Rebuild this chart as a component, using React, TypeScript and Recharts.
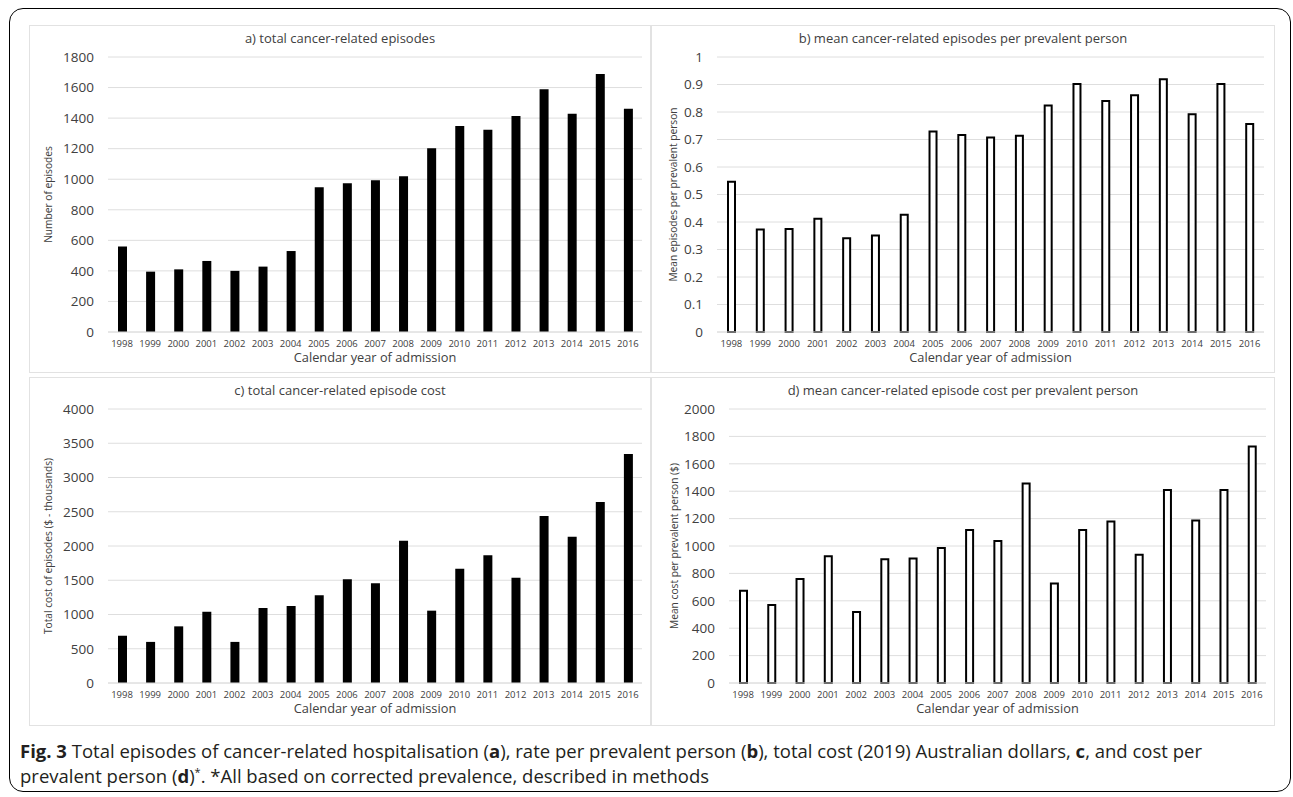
import React from 'react';
import { BarChart, Bar, XAxis, YAxis, CartesianGrid } from 'recharts';

const years = [
  '1998', '1999', '2000', '2001', '2002', '2003', '2004', '2005', '2006', '2007',
  '2008', '2009', '2010', '2011', '2012', '2013', '2014', '2015', '2016',
];

// a) total cancer-related episodes
const totalEpisodes = [560, 395, 410, 465, 400, 428, 530, 947, 973, 993, 1019, 1202, 1348, 1324, 1414, 1589, 1429, 1689, 1462];
// b) mean episodes per prevalent person
const episodesPerPerson = [0.546, 0.373, 0.375, 0.412, 0.341, 0.351, 0.426, 0.729, 0.716, 0.707, 0.714, 0.824, 0.902, 0.84, 0.861, 0.919, 0.792, 0.902, 0.756];
// c) total cost ($ thousands)
const totalCost = [690, 600, 827, 1040, 600, 1095, 1124, 1280, 1513, 1455, 2078, 1056, 1669, 1864, 1538, 2438, 2136, 2642, 3343];
// d) mean cost per prevalent person ($)
const costPerPerson = [674, 569, 759, 925, 518, 903, 908, 985, 1117, 1036, 1457, 727, 1117, 1178, 937, 1409, 1187, 1409, 1727];

const ticksA = [0, 200, 400, 600, 800, 1000, 1200, 1400, 1600, 1800];
const ticksB = [0, 0.1, 0.2, 0.3, 0.4, 0.5, 0.6, 0.7, 0.8, 0.9, 1];
const ticksC = [0, 500, 1000, 1500, 2000, 2500, 3000, 3500, 4000];
const ticksD = [0, 200, 400, 600, 800, 1000, 1200, 1400, 1600, 1800, 2000];

const FONT = '"Open Sans", sans-serif';
const TEXT = '#404040';

type PanelProps = {
  left: number;
  top: number;
  width: number;
  height: number;
  title: string;
  yTitle: string;
  values: number[];
  ticks: number[];
  filled: boolean;
  plotLeft: number;
  plotRight: number;
  plotBottom: number;
  yTitleX: number;
};

const Panel = (p: PanelProps) => {
  const data = years.map((year, i) => ({ year, value: p.values[i] }));
  const w = p.width - 2;
  const h = p.height - 2;
  const max = p.ticks[p.ticks.length - 1];

  return (
    <div
      style={{
        position: 'absolute',
        left: p.left,
        top: p.top,
        width: p.width,
        height: p.height,
        border: '1px solid #e2e2e2',
        boxSizing: 'border-box',
        background: '#fff',
      }}
    >
      <div
        style={{
          position: 'absolute',
          left: 0,
          right: 0,
          top: 3,
          textAlign: 'center',
          fontFamily: FONT,
          fontSize: 13,
          color: TEXT,
        }}
      >
        {p.title}
      </div>
      <BarChart
        width={w}
        height={h}
        data={data}
        margin={{ top: 31, right: w - p.plotRight, left: 0, bottom: 0 }}
        barCategoryGap={0}
      >
        <CartesianGrid vertical={false} stroke="#dedede" strokeWidth={1} />
        <XAxis
          dataKey="year"
          height={h - p.plotBottom}
          axisLine={{ stroke: '#dedede' }}
          tickLine={false}
          interval={0}
          tick={{ fill: TEXT, fontSize: 9.5, fontFamily: FONT }}
          label={{
            content: (props: any) => {
              const vb = props.viewBox || {};
              return (
                <text
                  x={vb.x + vb.width / 2}
                  y={vb.y + 25}
                  textAnchor="middle"
                  dominantBaseline="central"
                  fill={TEXT}
                  fontSize={12.8}
                  fontFamily={FONT}
                >
                  Calendar year of admission
                </text>
              );
            },
          }}
        />
        <YAxis
          width={p.plotLeft}
          domain={[0, max]}
          ticks={p.ticks}
          interval={0}
          axisLine={false}
          tickLine={false}
          tickMargin={8}
          tickFormatter={(v: number) => String(v)}
          tick={{ fill: TEXT, fontSize: 13.5, fontFamily: FONT }}
          label={{
            content: (props: any) => {
              const vb = props.viewBox || {};
              const cy = vb.y + vb.height / 2;
              return (
                <text
                  x={p.yTitleX}
                  y={cy}
                  transform={`rotate(-90, ${p.yTitleX}, ${cy})`}
                  textAnchor="middle"
                  dominantBaseline="central"
                  fill={TEXT}
                  fontSize={10.2}
                  fontFamily={FONT}
                >
                  {p.yTitle}
                </text>
              );
            },
          }}
        />
        {p.filled ? (
          <Bar dataKey="value" fill="#000" barSize={9} isAnimationActive={false} />
        ) : (
          <Bar
            dataKey="value"
            fill="#fff"
            stroke="#000"
            strokeWidth={2}
            barSize={7}
            isAnimationActive={false}
          />
        )}
      </BarChart>
    </div>
  );
};

const bold = { fontWeight: 700 };

export default function App() {
  return (
    <div style={{ position: 'absolute', left: 0, top: 0, width: 1293, height: 797, background: '#fff', overflow: 'hidden' }}>
      <div
        style={{
          position: 'absolute',
          left: 9,
          top: 8,
          width: 1282,
          height: 784,
          border: '1.5px solid #000',
          borderRadius: 14,
          boxSizing: 'border-box',
        }}
      />
      <Panel
        left={29}
        top={25}
        width={622}
        height={348}
        title="a) total cancer-related episodes"
        yTitle="Number of episodes"
        values={totalEpisodes}
        ticks={ticksA}
        filled
        plotLeft={78}
        plotRight={612}
        plotBottom={306}
        yTitleX={18}
      />
      <Panel
        left={651}
        top={25}
        width={624}
        height={348}
        title="b) mean cancer-related episodes per prevalent person"
        yTitle="Mean episodes per prevalent person"
        values={episodesPerPerson}
        ticks={ticksB}
        filled={false}
        plotLeft={65}
        plotRight={612}
        plotBottom={306}
        yTitleX={21}
      />
      <Panel
        left={29}
        top={377}
        width={622}
        height={349}
        title="c) total cancer-related episode cost"
        yTitle="Total cost of episodes ($ - thousands)"
        values={totalCost}
        ticks={ticksC}
        filled
        plotLeft={78}
        plotRight={612}
        plotBottom={305}
        yTitleX={18}
      />
      <Panel
        left={651}
        top={377}
        width={624}
        height={349}
        title="d) mean cancer-related episode cost per prevalent person"
        yTitle="Mean cost per prevalent person ($)"
        values={costPerPerson}
        ticks={ticksD}
        filled={false}
        plotLeft={77}
        plotRight={614}
        plotBottom={305}
        yTitleX={22}
      />
      <div
        style={{
          position: 'absolute',
          left: 20,
          top: 738,
          width: 1265,
          fontFamily: FONT,
          fontSize: 18.5,
          lineHeight: '25px',
          color: '#231f20',
          whiteSpace: 'nowrap',
        }}
      >
        <span style={bold}>Fig. 3</span> Total episodes of cancer-related hospitalisation (<span style={bold}>a</span>), rate per
        prevalent person (<span style={bold}>b</span>), total cost (2019) Australian dollars, <span style={bold}>c</span>, and cost per
        <br />
        prevalent person (<span style={bold}>d</span>)<sup style={{ fontSize: 11, lineHeight: 0 }}>*</sup>. *All based on corrected
        prevalence, described in methods
      </div>
    </div>
  );
}
